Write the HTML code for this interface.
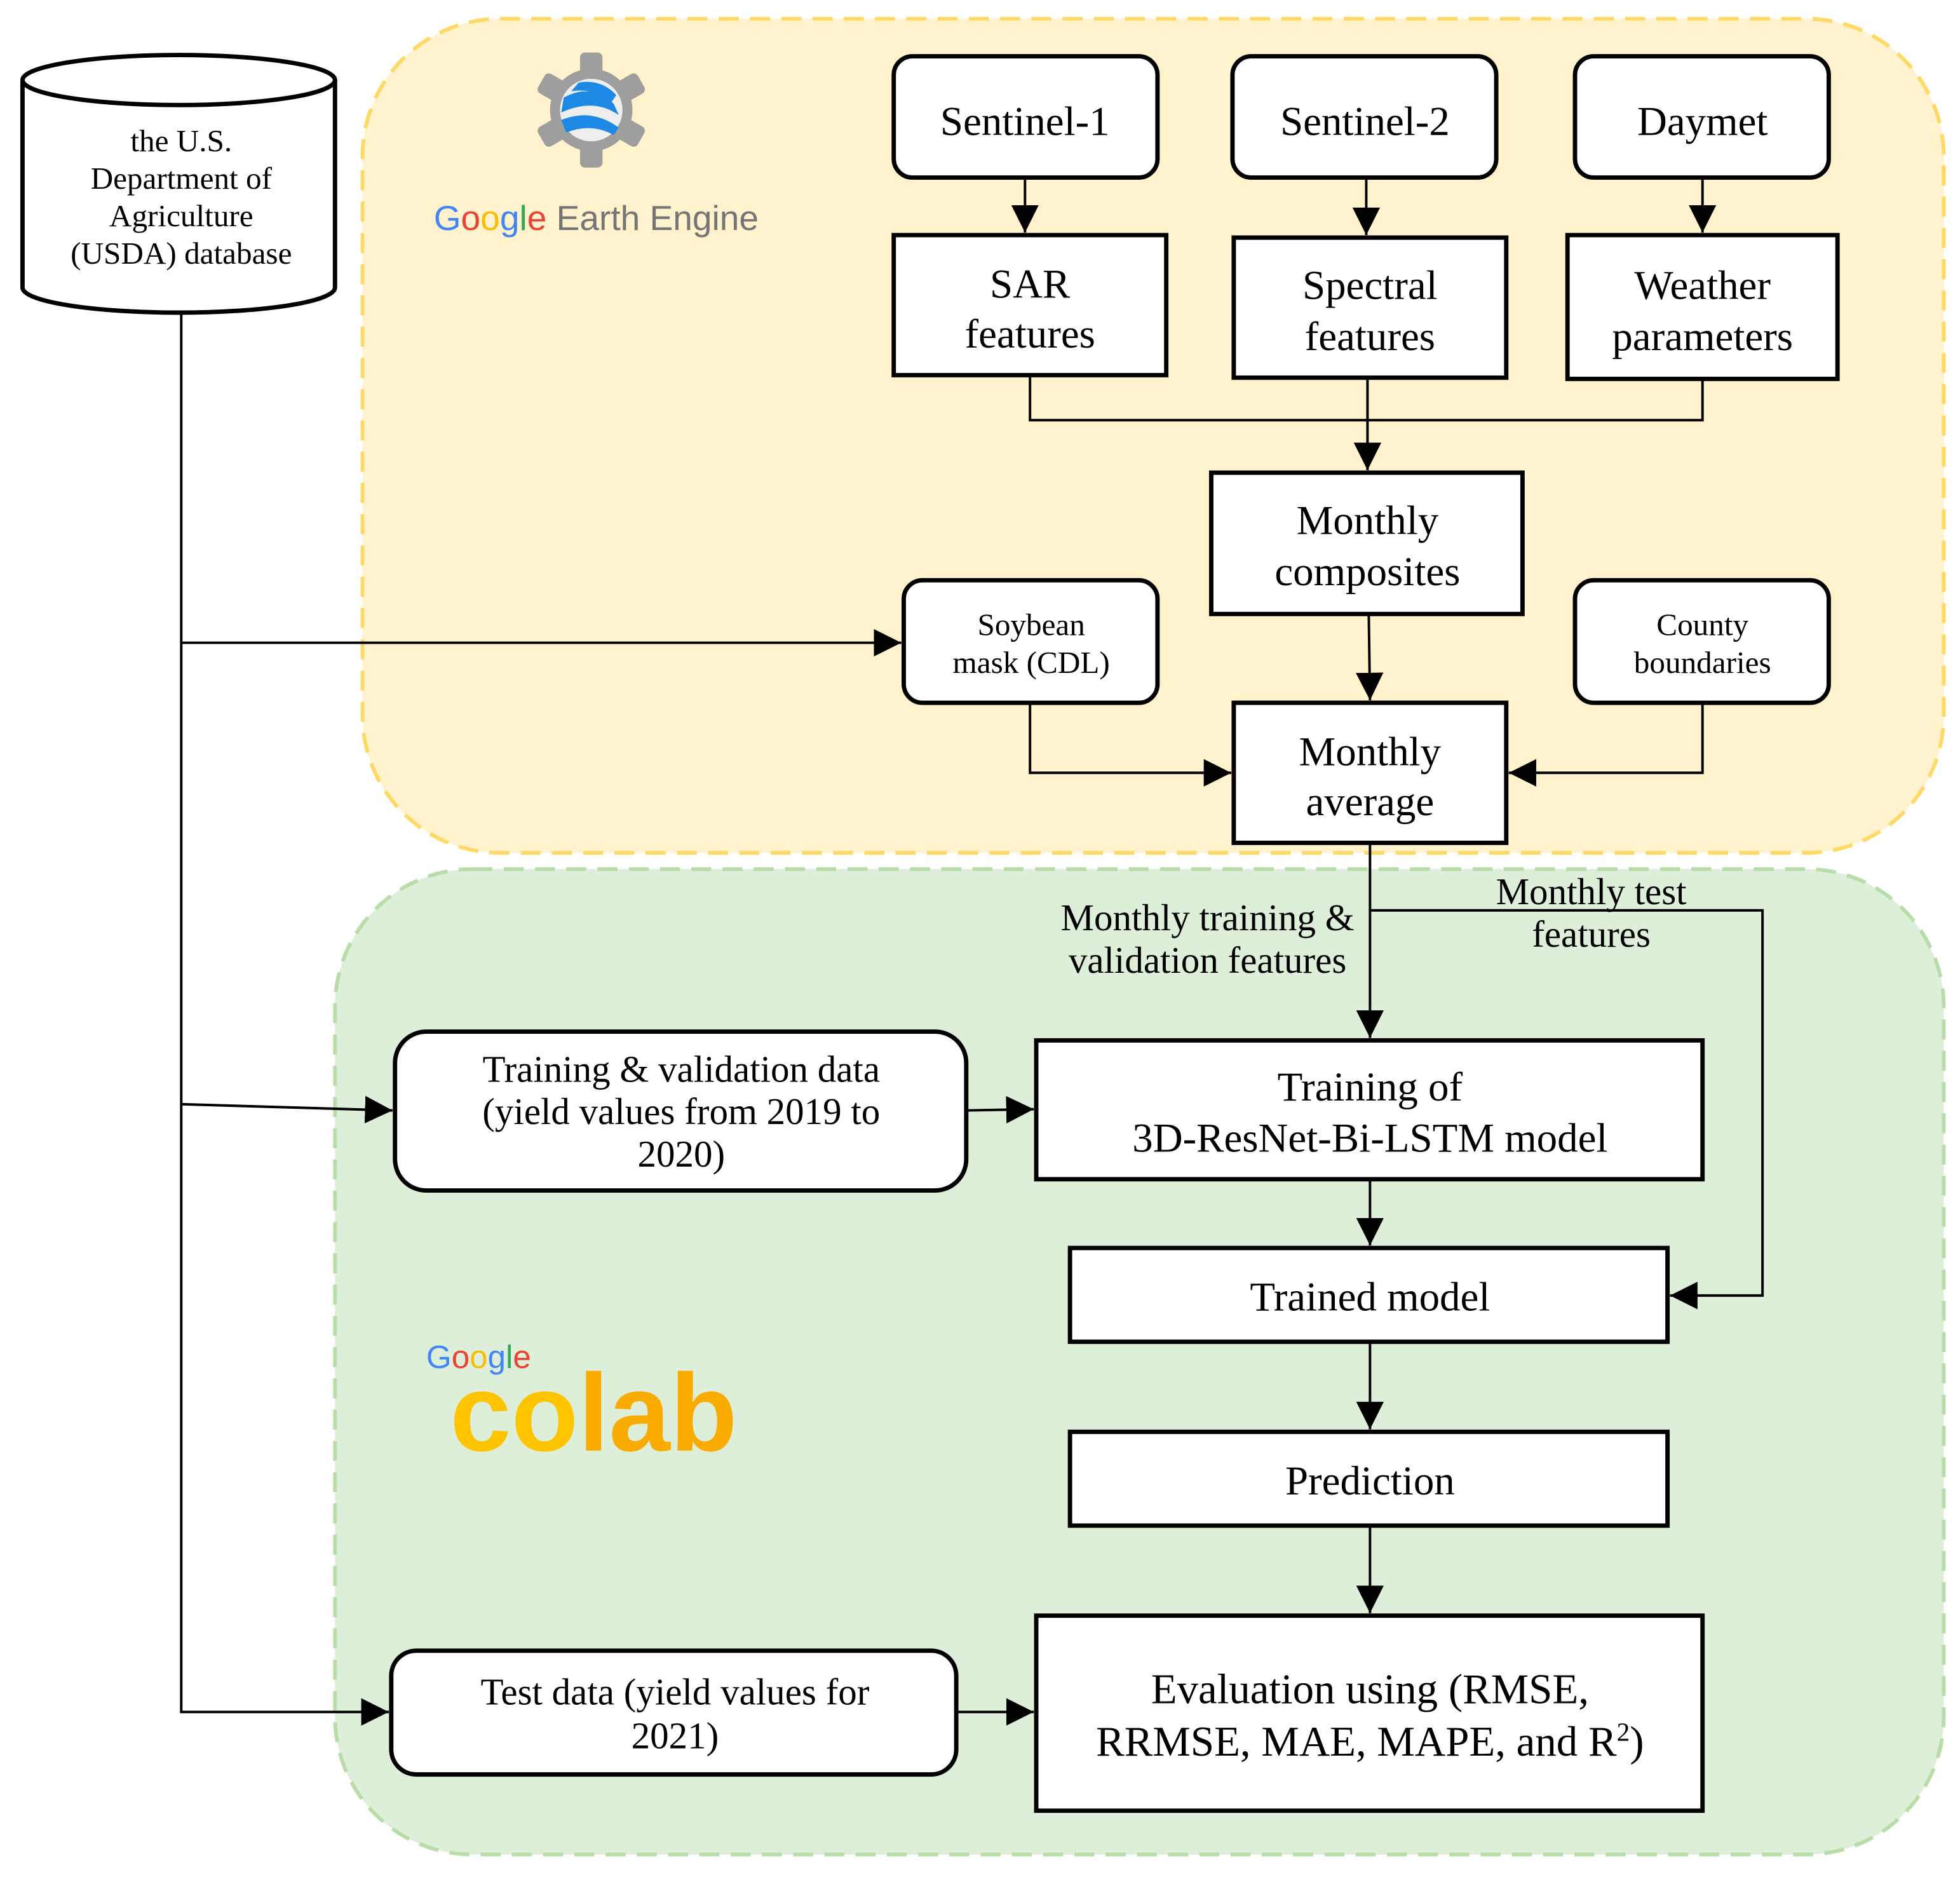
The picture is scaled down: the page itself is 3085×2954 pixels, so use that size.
<!DOCTYPE html>
<html><head><meta charset="utf-8"><style>
html,body{margin:0;padding:0;background:#fff}
svg{display:block}
text{font-family:"Liberation Serif",serif;fill:#000}
.s{font-family:"Liberation Sans",sans-serif}
</style></head><body>
<svg width="3085" height="2954" viewBox="0 0 1568 1501" preserveAspectRatio="none" xmlns="http://www.w3.org/2000/svg">
<defs>
<marker id="b" viewBox="0 0 10 10" refX="10" refY="5" markerWidth="22" markerHeight="22" markerUnits="userSpaceOnUse" orient="auto">
<path d="M0,0 L10,5 L0,10 z" fill="#000"/></marker>
</defs>
<rect width="1568" height="1501" fill="#fff"/>
<rect x="290" y="15" width="1265" height="667" rx="110" fill="#FFF2CC" stroke="#FFD966" stroke-width="3" stroke-dasharray="16,9"/>
<rect x="268" y="695" width="1287" height="788" rx="110" fill="#DDEED9" stroke="#B9DDA8" stroke-width="3" stroke-dasharray="16,9"/>

<path d="M18,64 L18,230 A125,20 0 0 0 268,230 L268,64" fill="#fff" stroke="#000" stroke-width="3.5"/>
<ellipse cx="143" cy="64" rx="125" ry="20" fill="#fff" stroke="#000" stroke-width="3.5"/>
<g font-size="25" text-anchor="middle">
<text x="145" y="121">the U.S.</text>
<text x="145" y="151">Department of</text>
<text x="145" y="181">Agriculture</text>
<text x="145" y="211">(USDA) database</text>
</g>

<g transform="translate(473,88)">
<g fill="#9E9E9E">
<circle r="33"/>
<rect x="-9" y="-46" width="18" height="92" rx="4"/>
<rect x="-9" y="-46" width="18" height="92" rx="4" transform="rotate(60)"/>
<rect x="-9" y="-46" width="18" height="92" rx="4" transform="rotate(120)"/>
</g>
<circle r="25" fill="#EEEEEE"/>
<path d="M-22,-10 Q0,-22 18,-5 L22,4 Q2,-10 -24,2 Z" fill="#1E88E5"/>
<path d="M-24,8 Q0,-2 22,14 L18,20 Q0,10 -20,18 Z" fill="#1E88E5"/>
<path d="M-10,-22 Q8,-25 20,-12 L16,-6 Q2,-18 -16,-15 Z" fill="#1E88E5"/>
</g>
<text class="s" x="347" y="184" font-size="28"><tspan style="fill:#4285F4">G</tspan><tspan style="fill:#EA4335">o</tspan><tspan style="fill:#FBBC05">o</tspan><tspan style="fill:#4285F4">g</tspan><tspan style="fill:#34A853">l</tspan><tspan style="fill:#EA4335">e</tspan><tspan style="fill:#757575"> Earth Engine</tspan></text>

<text class="s" x="341" y="1094" font-size="26"><tspan style="fill:#4285F4">G</tspan><tspan style="fill:#EA4335">o</tspan><tspan style="fill:#FBBC05">o</tspan><tspan style="fill:#4285F4">g</tspan><tspan style="fill:#34A853">l</tspan><tspan style="fill:#EA4335">e</tspan></text>
<text class="s" x="360" y="1160" font-size="88" font-weight="bold" style="fill:#F9AB00"><tspan style="fill:#FFC400">co</tspan>lab</text>

<g fill="#fff" stroke="#000" stroke-width="3.5">
<rect x="715" y="45" width="211" height="97" rx="15"/>
<rect x="986" y="45" width="211" height="97" rx="15"/>
<rect x="1260" y="45" width="203" height="97" rx="15"/>
<rect x="715" y="188" width="218" height="112"/>
<rect x="987" y="190" width="218" height="112"/>
<rect x="1254" y="188" width="216" height="115"/>
<rect x="969" y="378" width="249" height="113"/>
<rect x="723" y="464" width="203" height="98" rx="15"/>
<rect x="1260" y="464" width="203" height="98" rx="15"/>
<rect x="987" y="562" width="218" height="112"/>
<rect x="316" y="825" width="457" height="127" rx="25"/>
<rect x="829" y="832" width="533" height="111"/>
<rect x="856" y="998" width="478" height="75"/>
<rect x="856" y="1145" width="478" height="75"/>
<rect x="829" y="1292" width="533" height="156"/>
<rect x="313" y="1320" width="452" height="99" rx="20"/>
</g>

<g font-size="33" text-anchor="middle">
<text x="820" y="108">Sentinel-1</text>
<text x="1092" y="108">Sentinel-2</text>
<text x="1362" y="108">Daymet</text>
<text x="824" y="238">SAR</text><text x="824" y="278">features</text>
<text x="1096" y="239">Spectral</text><text x="1096" y="280">features</text>
<text x="1362" y="239">Weather</text><text x="1362" y="280">parameters</text>
<text x="1094" y="427">Monthly</text><text x="1094" y="468">composites</text>
<text x="1096" y="612">Monthly</text><text x="1096" y="652">average</text>
<text x="1096" y="880">Training of</text><text x="1096" y="921">3D-ResNet-Bi-LSTM model</text>
<text x="1096" y="1048">Trained model</text>
<text x="1096" y="1195">Prediction</text>
</g>
<g font-size="34" text-anchor="middle">
<text x="1096" y="1362">Evaluation using (RMSE,</text>
<text x="1096" y="1404">RRMSE, MAE, MAPE, and R<tspan font-size="21" dy="-12">2</tspan><tspan dy="12">)</tspan></text>
</g>
<g font-size="25" text-anchor="middle">
<text x="825" y="508">Soybean</text><text x="825" y="538">mask (CDL)</text>
<text x="1362" y="508">County</text><text x="1362" y="538">boundaries</text>
</g>
<g font-size="30" text-anchor="middle">
<text x="545" y="865">Training &amp; validation data</text>
<text x="545" y="899">(yield values from 2019 to</text>
<text x="545" y="933">2020)</text>
<text x="540" y="1363">Test data (yield values for</text>
<text x="540" y="1398">2021)</text>
<text x="966" y="744">Monthly training &amp;</text>
<text x="966" y="778">validation features</text>
<text x="1273" y="723">Monthly test</text>
<text x="1273" y="757">features</text>
</g>

<g fill="none" stroke="#000" stroke-width="2">
<path d="M820,142 L820,186" marker-end="url(#b)"/>
<path d="M1093,142 L1093,188" marker-end="url(#b)"/>
<path d="M1362,142 L1362,186" marker-end="url(#b)"/>
<path d="M824,300 L824,336 L1362,336 L1362,303"/>
<path d="M1094,302 L1094,376" marker-end="url(#b)"/>
<path d="M1095,491 L1096,560" marker-end="url(#b)"/>
<path d="M824,562 L824,618 L985,618" marker-end="url(#b)"/>
<path d="M1362,562 L1362,618 L1207,618" marker-end="url(#b)"/>
<path d="M145,250 L145,1369 L311,1369" marker-end="url(#b)"/>
<path d="M145,514 L721,514" marker-end="url(#b)"/>
<path d="M145,883 L314,888" marker-end="url(#b)"/>
<path d="M1096,674 L1096,830" marker-end="url(#b)"/>
<path d="M1096,728 L1410,728 L1410,1036 L1336,1036" marker-end="url(#b)"/>
<path d="M773,888 L827,887" marker-end="url(#b)"/>
<path d="M1096,943 L1096,996" marker-end="url(#b)"/>
<path d="M1096,1073 L1096,1143" marker-end="url(#b)"/>
<path d="M1096,1220 L1096,1290" marker-end="url(#b)"/>
<path d="M765,1369 L827,1369" marker-end="url(#b)"/>
</g>
</svg>
</body></html>
